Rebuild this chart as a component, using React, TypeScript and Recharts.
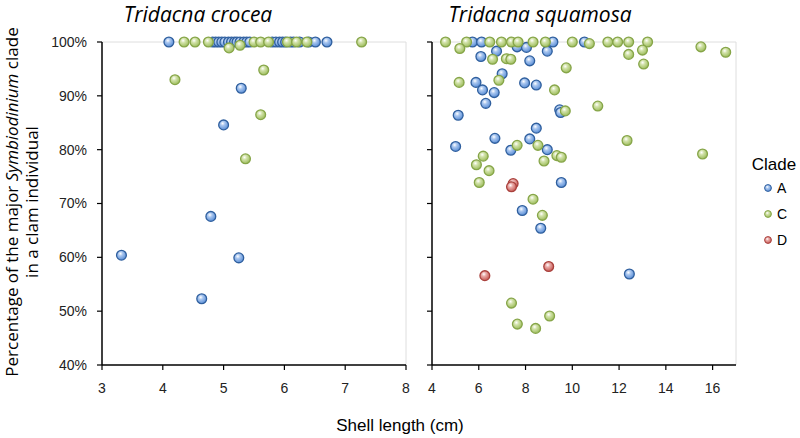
import React from 'react';
import { ScatterChart, Scatter, XAxis, YAxis, ReferenceLine } from 'recharts';

// ---- data (shell length cm, % of major clade) ----
const crocA: [number, number][] = [
  [3.32, 60.4], [4.64, 52.3], [4.79, 67.6], [5.25, 59.9], [5.0, 84.6], [5.29, 91.4],
  [4.1, 100], [4.82, 100], [4.87, 100], [4.92, 100], [4.97, 100], [5.02, 100], [5.08, 100],
  [5.13, 100], [5.18, 100], [5.22, 100], [5.27, 100], [5.33, 100], [5.38, 100], [5.43, 100],
  [5.8, 100], [5.86, 100], [5.92, 100], [5.97, 100], [6.02, 100], [6.1, 100], [6.15, 100],
  [6.25, 100], [6.4, 100], [6.51, 100], [6.7, 100],
];
const crocC: [number, number][] = [
  [4.2, 93.0], [5.66, 94.8], [5.61, 86.5], [5.36, 78.3], [5.09, 98.9], [5.27, 99.4],
  [4.35, 100], [4.53, 100], [4.75, 100], [5.5, 100], [5.61, 100], [5.74, 100],
  [6.05, 100], [6.2, 100], [6.37, 100], [7.27, 100],
];
const squaA: [number, number][] = [
  [5.73, 100], [6.12, 100], [9.17, 100], [10.52, 100],
  [6.76, 98.3], [7.64, 99.1], [8.04, 99.0], [8.93, 98.3], [6.09, 97.3], [8.18, 96.5],
  [7.0, 94.1], [5.88, 92.5], [6.16, 91.1], [6.66, 90.6], [7.96, 92.4], [8.46, 92.0],
  [6.3, 88.6], [5.12, 86.4], [9.46, 87.4], [9.5, 86.9], [8.46, 84.0], [6.69, 82.1],
  [8.18, 82.0], [5.01, 80.6], [7.37, 79.9], [8.93, 80.0], [9.53, 73.9], [7.86, 68.7],
  [8.65, 65.4], [12.44, 56.9],
];
const squaC: [number, number][] = [
  [4.58, 100], [5.48, 100], [6.47, 100], [6.97, 100], [7.4, 100], [7.68, 100], [8.32, 100],
  [8.85, 100], [10.0, 100], [11.52, 100], [11.94, 100], [12.41, 100], [13.22, 100],
  [10.73, 99.7], [15.5, 99.1], [16.56, 98.1], [5.19, 98.8], [12.41, 97.7], [13.0, 98.5],
  [6.59, 96.8], [7.18, 96.9], [7.37, 96.8], [9.74, 95.2], [13.05, 95.9], [5.16, 92.5],
  [6.86, 92.9], [9.24, 91.1], [9.7, 87.2], [11.09, 88.1], [12.34, 81.7], [7.64, 80.8],
  [8.53, 80.8], [6.19, 78.8], [5.9, 77.2], [6.44, 76.1], [6.02, 73.9], [8.79, 77.9],
  [9.34, 78.9], [9.53, 78.6], [15.57, 79.2], [8.32, 70.8], [8.72, 67.8], [7.4, 51.5],
  [9.03, 49.1], [7.65, 47.6], [8.43, 46.8],
];
const squaD: [number, number][] = [
  [7.47, 73.7], [7.4, 73.1], [8.99, 58.3], [6.26, 56.6],
];

const leftTicks = [3, 4, 5, 6, 7, 8];
const rightTicks = [4, 6, 8, 10, 12, 14, 16];
const yTicks = [40, 50, 60, 70, 80, 90, 100];
const clades = ['A', 'C', 'D'];

const toPts = (arr: [number, number][]) => arr.map(([x, y]) => ({ x, y }));

const STYLE: Record<string, { grad: string; stroke: string }> = {
  A: { grad: 'gA', stroke: '#2f5f9e' },
  C: { grad: 'gC', stroke: '#86a548' },
  D: { grad: 'gD', stroke: '#a9403c' },
};

const makeShape = (k: string) => (props: any) => (
  <circle cx={props.cx} cy={props.cy} r={4.9} fill={`url(#${STYLE[k].grad})`} stroke={STYLE[k].stroke} strokeWidth={1.3} />
);

const tickFont = { fontSize: 14, fill: '#222', fontFamily: 'Liberation Sans, Arial, sans-serif' };
const pct = (v: number) => `${v}%`;

export default function App() {
  return (
    <div style={{ position: 'absolute', left: 0, top: 0, width: 800, height: 438, background: '#fff', fontFamily: 'Liberation Sans, Arial, sans-serif' }}>
      <svg width={0} height={0} style={{ position: 'absolute' }}>
        <defs>
          <radialGradient id="gA" cx="40%" cy="35%" r="65%">
            <stop offset="0%" stopColor="#ffffff" />
            <stop offset="35%" stopColor="#a9c6ef" />
            <stop offset="100%" stopColor="#5a8ed6" />
          </radialGradient>
          <radialGradient id="gC" cx="40%" cy="35%" r="65%">
            <stop offset="0%" stopColor="#ffffff" />
            <stop offset="35%" stopColor="#d2e2aa" />
            <stop offset="100%" stopColor="#9dbd5c" />
          </radialGradient>
          <radialGradient id="gD" cx="40%" cy="35%" r="65%">
            <stop offset="0%" stopColor="#ffffff" />
            <stop offset="35%" stopColor="#e9aaa7" />
            <stop offset="100%" stopColor="#c65a55" />
          </radialGradient>
        </defs>
      </svg>

      <div style={{ position: 'absolute', left: 0, top: 0 }}>
        <ScatterChart width={420} height={438} margin={{ top: 42, right: 14, bottom: 43, left: 42 }}>
          <ReferenceLine y={100} stroke="#dedede" />
          <ReferenceLine x={8} stroke="#dedede" />
          <XAxis type="number" dataKey="x" domain={[3, 8]} ticks={leftTicks} height={30}
            axisLine={{ stroke: '#000', strokeWidth: 1.5 }} tickLine={{ stroke: '#000', strokeWidth: 1.2 }}
            tickSize={5} tickMargin={13} tick={tickFont} allowDataOverflow />
          <YAxis type="number" dataKey="y" domain={[40, 100]} ticks={yTicks} width={60}
            axisLine={{ stroke: '#000', strokeWidth: 1.5 }} tickLine={{ stroke: '#000', strokeWidth: 1.2 }}
            tickSize={5} tickMargin={10} tick={tickFont} tickFormatter={pct} />
          <Scatter data={toPts(crocA)} shape={makeShape('A')} isAnimationActive={false} />
          <Scatter data={toPts(crocC)} shape={makeShape('C')} isAnimationActive={false} />
        </ScatterChart>
      </div>

      <div style={{ position: 'absolute', left: 420, top: 0 }}>
        <ScatterChart width={330} height={438} margin={{ top: 42, right: 14, bottom: 43, left: 2 }}>
          <ReferenceLine y={100} stroke="#dedede" />
          <ReferenceLine x={17} stroke="#dedede" />
          <XAxis type="number" dataKey="x" domain={[4, 17]} ticks={rightTicks} height={30}
            axisLine={{ stroke: '#000', strokeWidth: 1.5 }} tickLine={{ stroke: '#000', strokeWidth: 1.2 }}
            tickSize={5} tickMargin={13} tick={tickFont} allowDataOverflow />
          <YAxis type="number" dataKey="y" domain={[40, 100]} ticks={yTicks} width={10}
            axisLine={{ stroke: '#000', strokeWidth: 1.5 }} tickLine={{ stroke: '#000', strokeWidth: 1.2 }}
            tickSize={5} tickFormatter={() => ''} />
          <Scatter data={toPts(squaA)} shape={makeShape('A')} isAnimationActive={false} />
          <Scatter data={toPts(squaC)} shape={makeShape('C')} isAnimationActive={false} />
          <Scatter data={toPts(squaD)} shape={makeShape('D')} isAnimationActive={false} />
        </ScatterChart>
      </div>

      <svg width={800} height={438} style={{ position: 'absolute', left: 0, top: 0, pointerEvents: 'none' }}>
        <text x={198} y={22} textAnchor="middle" fontFamily="Open Sans, sans-serif" fontStyle="italic" fontSize={21} fill="#000">Tridacna crocea</text>
        <text x={540} y={22} textAnchor="middle" fontFamily="Open Sans, sans-serif" fontStyle="italic" fontSize={21} fill="#000">Tridacna squamosa</text>
        <text transform="translate(11,202) rotate(-90)" textAnchor="middle" dominantBaseline="central" fontFamily="Open Sans, sans-serif" fontSize={17} fill="#000">
          Percentage of the major <tspan fontStyle="italic">Symbiodinium</tspan> clade
        </text>
        <text transform="translate(31,202) rotate(-90)" textAnchor="middle" dominantBaseline="central" fontFamily="Open Sans, sans-serif" fontSize={17} fill="#000">
          in a clam individual
        </text>
        <text x={400} y={431} textAnchor="middle" fontSize={17} fill="#000" fontFamily="Liberation Sans, Arial, sans-serif">Shell length (cm)</text>
        <text x={774} y={170} textAnchor="middle" fontSize={17} fill="#000" fontFamily="Liberation Sans, Arial, sans-serif">Clade</text>
        {clades.map((c, i) => (
          <g key={c}>
            <circle cx={768} cy={188 + i * 26} r={3.4} fill={`url(#${STYLE[c].grad})`} stroke={STYLE[c].stroke} strokeWidth={1} />
            <text x={777} y={193 + i * 26} fontSize={14} fill="#000" fontFamily="Liberation Sans, Arial, sans-serif">{c}</text>
          </g>
        ))}
      </svg>
    </div>
  );
}
